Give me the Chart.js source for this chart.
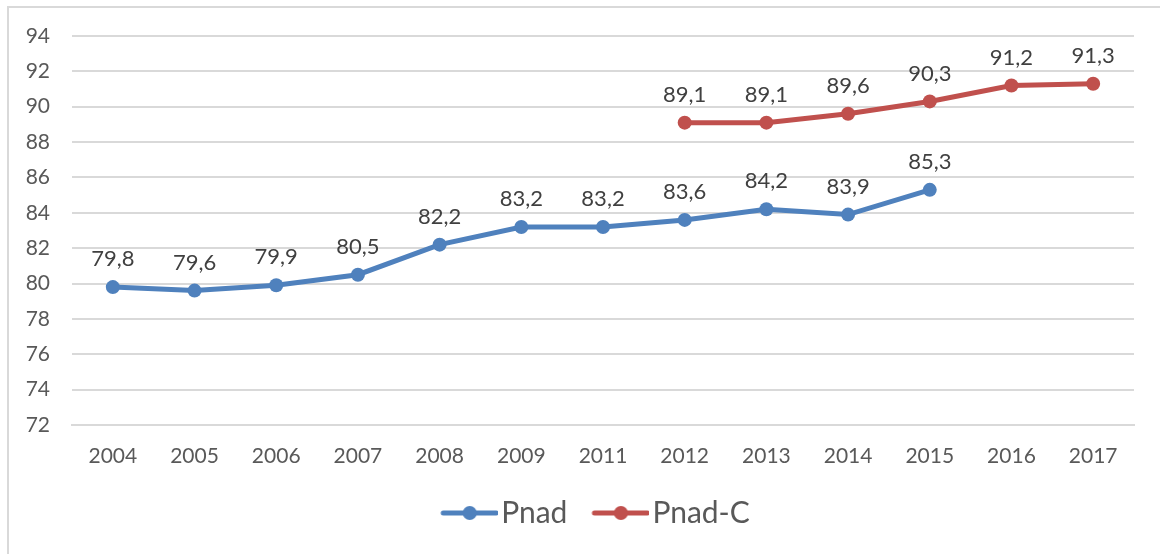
<!DOCTYPE html>
<html>
<head>
<meta charset="utf-8">
<script src="https://cdn.jsdelivr.net/npm/chart.js@4/dist/chart.umd.min.js"></script>
<style>
  body { margin: 0; background: #fff; overflow: hidden; }
  #frame { position: absolute; left: 7px; top: 6px; width: 1200px; height: 600px; border: 2px solid #d9d9d9; }
  #chart { position: absolute; left: 0; top: 0; }
</style>
</head>
<body>
<div id="frame"></div>
<canvas id="chart" width="1160" height="554"></canvas>
<script>
// values
const years = ["2004", "2005", "2006", "2007", "2008", "2009", "2011", "2012", "2013", "2014", "2015", "2016", "2017"];
const pnad = [79.8, 79.6, 79.9, 80.5, 82.2, 83.2, 83.2, 83.6, 84.2, 83.9, 85.3, null, null];
const pnadC = [null, null, null, null, null, null, null, 89.1, 89.1, 89.6, 90.3, 91.2, 91.3];
const yTicks = [72, 74, 76, 78, 80, 82, 84, 86, 88, 90, 92, 94];

const BLUE = '#4f81bd';
const RED = '#c0504d';
const FONT = 'Lato, "Open Sans", sans-serif';

// legend marker: short thick line with a dot in the middle
function legendMarker(color) {
  const c = document.createElement('canvas');
  c.width = 80; c.height = 18;
  const g = c.getContext('2d');
  g.strokeStyle = color;
  g.lineWidth = 5;
  g.lineCap = 'round';
  g.beginPath();
  g.moveTo(25, 9); g.lineTo(78, 9);
  g.stroke();
  g.fillStyle = color;
  g.beginPath();
  g.arc(51.5, 9, 7, 0, Math.PI * 2);
  g.fill();
  return c;
}

// value labels above each point, decimal comma
const valueLabels = {
  id: 'valueLabels',
  afterDatasetsDraw(chart) {
    const ctx = chart.ctx;
    ctx.save();
    ctx.font = '22px ' + FONT;
    ctx.fillStyle = '#404040';
    ctx.textAlign = 'center';
    ctx.textBaseline = 'bottom';
    chart.data.datasets.forEach((ds, i) => {
      chart.getDatasetMeta(i).data.forEach((pt, j) => {
        const v = ds.data[j];
        if (v == null) return;
        ctx.fillText(v.toFixed(1).replace('.', ','), pt.x, pt.y - 17);
      });
    });
    ctx.restore();
  }
};

// legend sits a little right of the canvas centre in the reference
const shiftLegend = {
  id: 'shiftLegend',
  afterLayout(chart) {
    if (chart.legend) chart.legend.left += 46;
  }
};

const ctx = document.getElementById('chart').getContext('2d');
const chart = new Chart(ctx, {
  type: 'line',
  data: {
    labels: years,
    datasets: [
      {
        label: 'Pnad',
        data: pnad,
        borderColor: BLUE,
        backgroundColor: BLUE,
        borderWidth: 5,
        pointRadius: 7,
        pointBorderWidth: 0,
        pointStyle: 'circle',
        tension: 0
      },
      {
        label: 'Pnad-C',
        data: pnadC,
        borderColor: RED,
        backgroundColor: RED,
        borderWidth: 5,
        pointRadius: 7,
        pointBorderWidth: 0,
        pointStyle: 'circle',
        tension: 0
      }
    ]
  },
  options: {
    responsive: false,
    devicePixelRatio: 1,
    animation: false,
    layout: { padding: { left: 0, top: 36, right: 26, bottom: 16 } },
    scales: {
      x: {
        offset: true,
        grid: { display: false, drawTicks: false },
        border: { display: true, color: '#d9d9d9', width: 2 },
        ticks: { color: '#595959', font: { family: FONT, size: 21 }, padding: 19, maxRotation: 0 },
        afterFit(scale) { scale.height = 59; }
      },
      y: {
        min: 72,
        max: 94,
        afterBuildTicks(scale) { scale.ticks = yTicks.map(v => ({ value: v })); },
        grid: { color: '#d9d9d9', lineWidth: 2, drawTicks: false },
        border: { display: false },
        ticks: { color: '#595959', font: { family: FONT, size: 21 }, padding: 22 },
        afterFit(scale) { scale.width = 72; }
      }
    },
    plugins: {
      legend: {
        position: 'bottom',
        labels: {
          usePointStyle: true,
          pointStyleWidth: 56,
          color: '#595959',
          font: { family: FONT, size: 30 },
          padding: 14,
          generateLabels(chart) {
            return chart.data.datasets.map((ds, i) => ({
              text: ds.label,
              pointStyle: legendMarker(ds.borderColor),
              fontColor: '#595959',
              lineWidth: 0,
              datasetIndex: i
            }));
          }
        }
      },
      tooltip: { enabled: false }
    }
  },
  plugins: [valueLabels, shiftLegend]
});
</script>
</body>
</html>
